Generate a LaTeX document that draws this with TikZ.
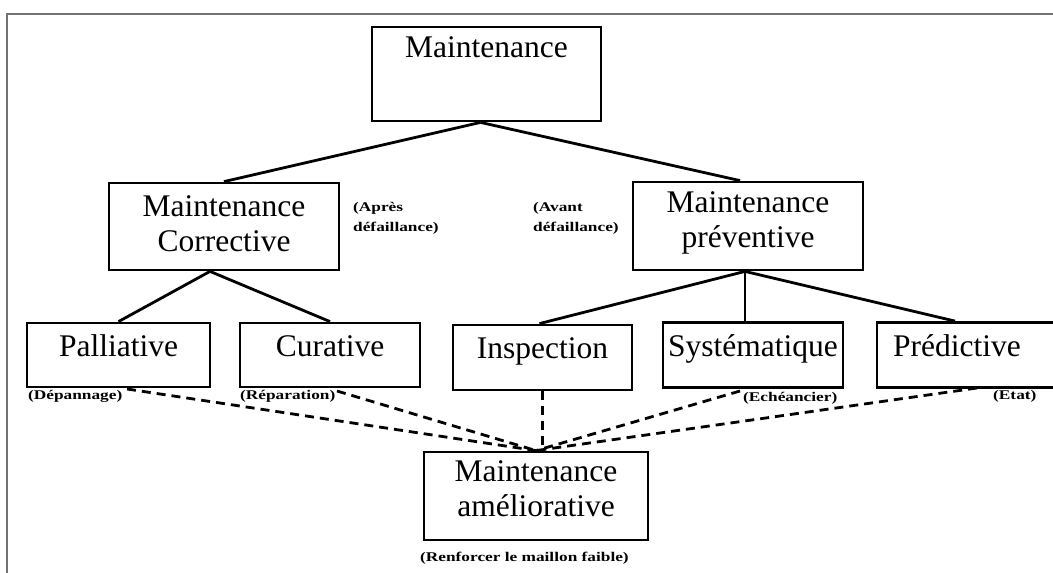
\documentclass[tikz,border=0pt]{standalone}
\usepackage{fontspec}
\setmainfont{Liberation Serif}
\newfontfamily\lblfont[FakeStretch=1.3]{Liberation Serif Bold}
\begin{document}
\begin{tikzpicture}[x=1pt,y=-1pt]
\tikzset{
  box/.style={draw=black, line width=2.8pt, inner sep=0pt, rectangle},
  main/.style={font=\fontsize{31.5}{35}\selectfont, align=center, inner sep=0pt},
  note/.style={font=\lblfont\fontsize{13.3}{20}\selectfont, align=left, inner sep=0pt},
  link/.style={line width=2.8pt},
  dlink/.style={line width=2.8pt, dash pattern=on 9pt off 6pt},
  frame/.style={draw=black!55, line width=2.5pt}
}
\clip (0,0) rectangle (1053,573);
\fill[white] (0,0) rectangle (1053,573);
\draw[frame] (7,573) -- (7,14) -- (1060,14);

% boxes
\node[box, minimum width=229pt, minimum height=94pt] (m) at (486.5,74) {};
\node[main, anchor=base] (mt) at (486.5,57) {Maintenance};

\node[box, minimum width=230pt, minimum height=87pt] (c) at (224,226.5) {};
\node[main] (ct) at (224,224) {Maintenance\\Corrective};

\node[box, minimum width=230pt, minimum height=88pt] (p) at (748,226) {};
\node[main] (pt) at (748,223) {Maintenance\\préventive};

\node[box, minimum width=183pt, minimum height=64pt] (pal) at (118.5,355) {};
\node[main, anchor=base] (palt) at (118.5,356) {Palliative};

\node[box, minimum width=180pt, minimum height=64pt] (cur) at (330,355) {};
\node[main, anchor=base] (curt) at (330,356) {Curative};

\node[box, minimum width=179pt, minimum height=65pt] (ins) at (542.5,357.5) {};
\node[main, anchor=base] (inst) at (542.5,358) {Inspection};

\node[box, minimum width=180pt, minimum height=65pt] (sys) at (753,355) {};
\node[main, anchor=base] (syst) at (753,356) {Systématique};

\node[box, minimum width=180pt, minimum height=65pt] (pre) at (967,355) {};
\node[main, anchor=base] (pret) at (957,356) {Prédictive};

\node[box, minimum width=224pt, minimum height=88pt] (a) at (536,496) {};
\node[main] (at) at (536,489) {Maintenance\\améliorative};

% notes
\node[note, anchor=north west] (n1) at (353,202) {(Après\\défaillance)};
\node[note, anchor=north west] (n2) at (533,202) {(Avant\\défaillance)};
\node[note, anchor=north west] (n3) at (28,390) {(Dépannage)};
\node[note, anchor=north west] (n4) at (240,390) {(Réparation)};
\node[note, anchor=north west] (n5) at (743,392) {(Echéancier)};
\node[note, anchor=north west] (n6) at (993,390) {(Etat)};
\node[note, anchor=north west] (n7) at (420,552) {(Renforcer le maillon faible)};

% solid connectors
\draw[link] ([xshift=-6pt]m.south) -- (c.north);
\draw[link] ([xshift=-6pt]m.south) -- ([xshift=-8pt]p.north);
\draw[link] ([xshift=-14pt]c.south) -- (pal.north);
\draw[link] ([xshift=-14pt]c.south) -- (cur.north);
\draw[link] ([xshift=-3pt]p.south) -- ([xshift=-3pt]ins.north);
\draw[link] ([xshift=-3pt]p.south) -- ([xshift=-3pt]p.south |- sys.north);
\draw[link] ([xshift=-3pt]p.south) -- ([xshift=-12pt]pre.north);

% dashed connectors
\coordinate (d1) at (127,389);
\coordinate (d2) at (337,391);
\coordinate (d4) at (740,391);
\coordinate (d5) at (977,388);
\draw[dlink] (d1) -- (a.north);
\draw[dlink] (d2) -- (a.north);
\draw[dlink] (ins.south) -- (ins.south |- a.north);
\draw[dlink] (d4) -- (a.north);
\draw[dlink] (d5) -- (a.north);
\end{tikzpicture}
\end{document}
